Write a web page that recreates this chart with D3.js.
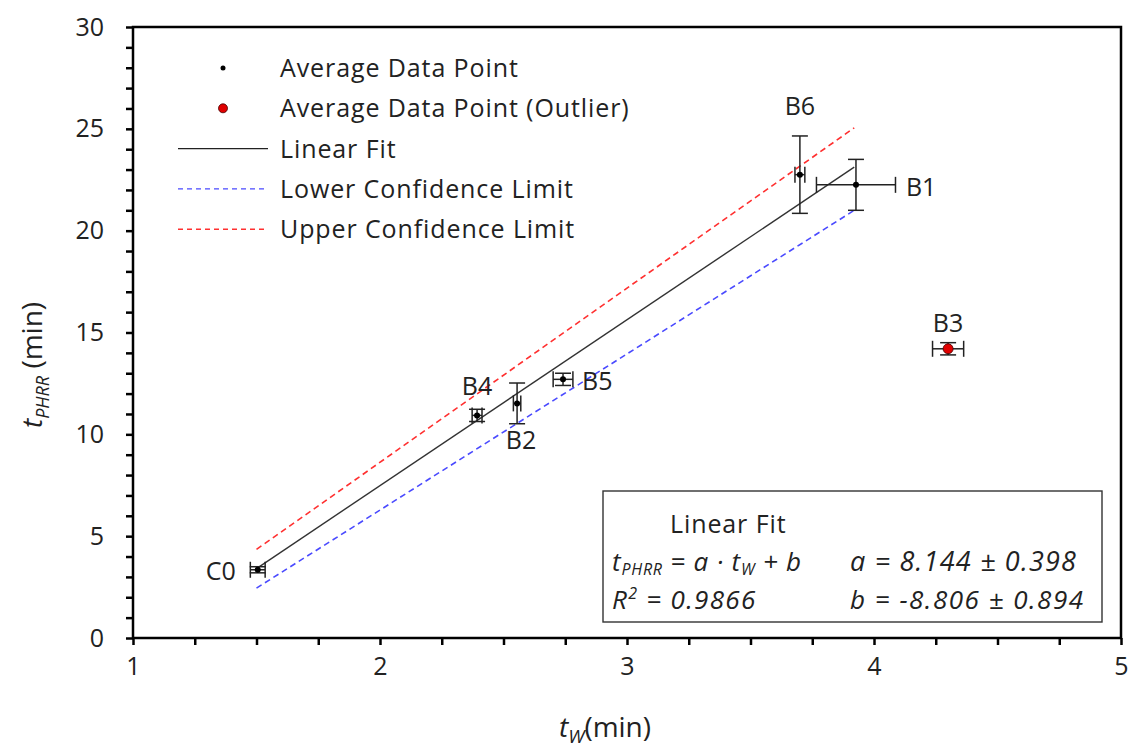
<!DOCTYPE html>
<html>
<head>
<meta charset="utf-8">
<script src="https://cdn.jsdelivr.net/npm/d3@7"></script>
<style>
  body { margin: 0; background: #fff; }
  svg text { font-family: "Open Sans", "Noto Sans", sans-serif; fill: #222; }
</style>
</head>
<body>
<svg id="chart"></svg>
<script>
const width = 1131;
const height = 755;

// data
const labels = ["C0", "B4", "B2", "B5", "B6", "B1", "B3"];
const tw = [1.505, 2.393, 2.555, 2.741, 3.70, 3.927, 4.30];
const tphrr = [3.35, 10.93, 11.52, 12.7, 22.75, 22.25, 14.2];
const twErr = [0.03, 0.02, 0.015, 0.04, 0.02, 0.16, 0.063];
const tphrrErr = [0.15, 0.3, 1.0, 0.3, 1.9, 1.25, 0.3];
const outlier = [false, false, false, false, false, false, true];

// fit and confidence limits (end points)
const fitA = 8.144, fitB = -8.806;
const fitX = [1.5, 3.92];
const upperLimit = [[1.5, 4.35], [3.92, 25.05]];
const lowerLimit = [[1.5, 2.45], [3.92, 21.0]];

const xTicks = [1, 2, 3, 4, 5];
const yTicks = [0, 5, 10, 15, 20, 25, 30];

const margin = { top: 27, right: 10, bottom: 117, left: 133 };

const svg = d3.select("#chart").attr("width", width).attr("height", height);

const x = d3.scaleLinear().domain([1, 5]).range([margin.left, width - margin.right]);
const y = d3.scaleLinear().domain([0, 30]).range([height - margin.bottom, margin.top]);

const points = labels.map((d, i) => ({
  label: d, x: tw[i], y: tphrr[i], ex: twErr[i], ey: tphrrErr[i], outlier: outlier[i]
}));

// minor ticks
svg.append("g")
  .attr("transform", `translate(0,${y(0)})`)
  .call(d3.axisBottom(x).tickValues(d3.range(1, 5.01, 0.25)).tickSize(7).tickFormat(""))
  .call(g => g.select(".domain").remove())
  .call(g => g.selectAll("line").attr("stroke-width", 2.5));

svg.append("g")
  .attr("transform", `translate(${x(1)},0)`)
  .call(d3.axisLeft(y).tickValues(d3.range(0, 30.01, 1)).tickSize(7).tickFormat(""))
  .call(g => g.select(".domain").remove())
  .call(g => g.selectAll("line").attr("stroke-width", 2.5));

// tick labels
svg.append("g")
  .attr("transform", `translate(0,${y(0)})`)
  .call(d3.axisBottom(x).tickValues(xTicks).tickSize(0).tickPadding(19).tickFormat(d3.format("d")))
  .call(g => g.select(".domain").remove())
  .call(g => g.selectAll("text").attr("font-size", 25).style("font-family", "'Open Sans', sans-serif").attr("fill", "#222"));

svg.append("g")
  .attr("transform", `translate(${x(1)},0)`)
  .call(d3.axisLeft(y).tickValues(yTicks).tickSize(0).tickPadding(29).tickFormat(d3.format("d")))
  .call(g => g.select(".domain").remove())
  .call(g => g.selectAll("text").attr("font-size", 25).style("font-family", "'Open Sans', sans-serif").attr("fill", "#222"));

// plot frame
svg.append("rect")
  .attr("x", x(1)).attr("y", y(30))
  .attr("width", x(5) - x(1)).attr("height", y(0) - y(30))
  .attr("fill", "none").attr("stroke", "#000").attr("stroke-width", 2.5);

// confidence limits and fit
const line = d3.line().x(d => x(d[0])).y(d => y(d[1]));
svg.append("path").datum(upperLimit).attr("d", line)
  .attr("fill", "none").attr("stroke", "#ff3030").attr("stroke-width", 1.6).attr("stroke-dasharray", "6,4");
svg.append("path").datum(lowerLimit).attr("d", line)
  .attr("fill", "none").attr("stroke", "#4a4aff").attr("stroke-width", 1.6).attr("stroke-dasharray", "6,4");
svg.append("path").datum(fitX.map(v => [v, fitA * v + fitB])).attr("d", line)
  .attr("fill", "none").attr("stroke", "#333").attr("stroke-width", 1.4);

// error bars
const cap = 8;
const eb = svg.append("g").attr("stroke", "#222").attr("stroke-width", 1.5).attr("fill", "none");
points.forEach(p => {
  const cx = x(p.x), cy = y(p.y);
  const x0 = x(p.x - p.ex), x1 = x(p.x + p.ex);
  const y0 = y(p.y - p.ey), y1 = y(p.y + p.ey);
  eb.append("line").attr("x1", x0).attr("x2", x1).attr("y1", cy).attr("y2", cy);
  eb.append("line").attr("x1", x0).attr("x2", x0).attr("y1", cy - cap).attr("y2", cy + cap);
  eb.append("line").attr("x1", x1).attr("x2", x1).attr("y1", cy - cap).attr("y2", cy + cap);
  eb.append("line").attr("x1", cx).attr("x2", cx).attr("y1", y0).attr("y2", y1);
  eb.append("line").attr("x1", cx - cap).attr("x2", cx + cap).attr("y1", y0).attr("y2", y0);
  eb.append("line").attr("x1", cx - cap).attr("x2", cx + cap).attr("y1", y1).attr("y2", y1);
});

// points
svg.selectAll(".pt").data(points).join("circle")
  .attr("class", "pt")
  .attr("cx", d => x(d.x)).attr("cy", d => y(d.y))
  .attr("r", d => d.outlier ? 5 : 3)
  .attr("fill", d => d.outlier ? "#e00000" : "#000")
  .attr("stroke", d => d.outlier ? "#400" : "none").attr("stroke-width", 0.8);

// point labels
const labelPos = {
  C0: { dx: -22, dy: 10, anchor: "end" },
  B4: { dx: 0, dy: -20, anchor: "middle" },
  B2: { dx: 4, dy: 46, anchor: "middle" },
  B5: { dx: 19, dy: 11, anchor: "start" },
  B6: { dx: 0, dy: -60, anchor: "middle" },
  B1: { dx: 50, dy: 11, anchor: "start" },
  B3: { dx: 0, dy: -17, anchor: "middle" }
};
svg.selectAll(".plabel").data(points).join("text")
  .attr("class", "plabel")
  .attr("x", d => x(d.x) + labelPos[d.label].dx)
  .attr("y", d => y(d.y) + labelPos[d.label].dy)
  .attr("text-anchor", d => labelPos[d.label].anchor)
  .attr("font-size", 25)
  .text(d => d.label);

// legend
const legendItems = [
  { name: "Average Data Point", type: "dot" },
  { name: "Average Data Point (Outlier)", type: "outlier" },
  { name: "Linear Fit", type: "fit" },
  { name: "Lower Confidence Limit", type: "lower" },
  { name: "Upper Confidence Limit", type: "upper" }
];
const legend = svg.append("g").attr("transform", "translate(178,68)");
legendItems.forEach((d, i) => {
  const g = legend.append("g").attr("transform", `translate(0,${i * 40.3})`);
  if (d.type === "dot") {
    g.append("circle").attr("cx", 45).attr("cy", 0).attr("r", 2.5).attr("fill", "#000");
  } else if (d.type === "outlier") {
    g.append("circle").attr("cx", 45).attr("cy", 0).attr("r", 4.5).attr("fill", "#e00000").attr("stroke", "#400").attr("stroke-width", 0.8);
  } else {
    g.append("line").attr("x1", 0).attr("x2", 90).attr("y1", 0).attr("y2", 0)
      .attr("stroke", d.type === "fit" ? "#222" : d.type === "lower" ? "#4a4aff" : "#ff3030")
      .attr("stroke-width", 1.4)
      .attr("stroke-dasharray", d.type === "fit" ? null : "5,4");
  }
  g.append("text").attr("x", 102).attr("y", 9).attr("font-size", 25)
    .attr("letter-spacing", 0.9).text(d.name);
});

// axis titles
const xt = svg.append("text").attr("x", 605).attr("y", 737).attr("text-anchor", "middle").attr("font-size", 28);
xt.append("tspan").attr("font-style", "italic").text("t");
xt.append("tspan").attr("font-style", "italic").attr("font-size", 19).attr("dy", 6).text("W");
xt.append("tspan").attr("dy", -6).text("(min)");

const yt = svg.append("text").attr("transform", "translate(42,365) rotate(-90)").attr("text-anchor", "middle").attr("font-size", 28);
yt.append("tspan").attr("font-style", "italic").text("t");
yt.append("tspan").attr("font-style", "italic").attr("font-size", 18).attr("dy", 7).text("PHRR");
yt.append("tspan").attr("dy", -7).text(" (min)");

// fit info box
const box = svg.append("g").attr("transform", "translate(603,491)");
box.append("rect").attr("width", 499).attr("height", 131)
  .attr("fill", "#fff").attr("stroke", "#333").attr("stroke-width", 1.4);
box.append("text").attr("x", 67).attr("y", 42).attr("font-size", 25).attr("letter-spacing", 0.9).text("Linear Fit");

const eq = box.append("text").attr("x", 9).attr("y", 80).attr("font-size", 26).attr("font-style", "italic").attr("letter-spacing", 0.8);
eq.append("tspan").text("t");
eq.append("tspan").attr("font-size", 16).attr("dy", 4).text("PHRR");
eq.append("tspan").attr("dy", -4).text(" = a · t");
eq.append("tspan").attr("font-size", 16).attr("dy", 4).text("W");
eq.append("tspan").attr("dy", -4).text(" + b");

box.append("text").attr("x", 247).attr("y", 80).attr("font-size", 27).attr("font-style", "italic").attr("letter-spacing", 1.2)
  .text(`a = ${fitA.toFixed(3)} ± 0.398`);

const r2 = box.append("text").attr("x", 9).attr("y", 118).attr("font-size", 26).attr("font-style", "italic").attr("letter-spacing", 1.3);
r2.append("tspan").text("R");
r2.append("tspan").attr("font-size", 16).attr("dy", -10).text("2");
r2.append("tspan").attr("dy", 10).text(" = 0.9866");

box.append("text").attr("x", 247).attr("y", 118).attr("font-size", 26).attr("font-style", "italic").attr("letter-spacing", 1.5)
  .text(`b = ${fitB.toFixed(3)} ± 0.894`);
</script>
</body>
</html>
